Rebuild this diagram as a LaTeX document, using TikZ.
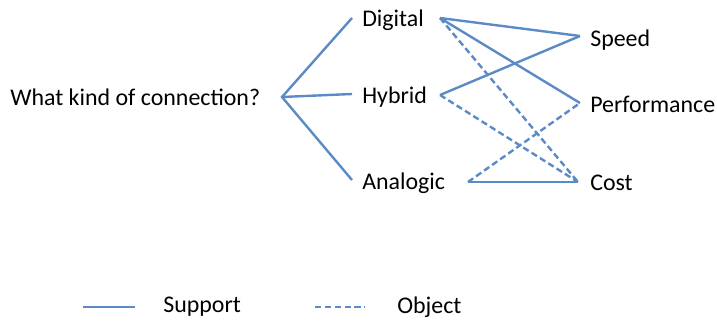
\documentclass[tikz,border=0pt]{standalone}
\usepackage{fontspec}
\setmainfont{Carlito}
\usepackage{tikz}
\definecolor{LineBlue}{HTML}{5B8AC6}
\tikzset{
  lbl/.style={anchor=west, inner sep=0pt, font=\fontsize{17}{20}\selectfont},
  supp/.style={draw=LineBlue, line width=1.7pt},
  obj/.style={draw=LineBlue, line width=1.7pt, dash pattern=on 4.5pt off 2.5pt}
}
\begin{document}
\begin{tikzpicture}[x=0.025cm, y=-0.025cm]
        \useasboundingbox (0,0) rectangle (717,323);
        %Question
        \node[lbl] (q) at (10,97) {What kind of connection?};
        \coordinate (root) at (282,97);
        %Options
        \node[lbl] (dig) at (362,20) {Digital};
        \node[lbl] (hyb) at (362,97) {Hybrid};
        \node[lbl] (ana) at (362,183) {Analogic};
        \coordinate (digL) at (352,18);
        \coordinate (hybL) at (352,94);
        \coordinate (anaL) at (352,180);
        \coordinate (digR) at (440,18);
        \coordinate (hybR) at (440,95);
        \coordinate (anaR) at (468,182);
        %Criteria
        \node[lbl] (spd) at (590,40) {Speed};
        \node[lbl] (perf) at (590,104) {Performance};
        \node[lbl] (cost) at (590,183) {Cost};
        \coordinate (spdL) at (580,36);
        \coordinate (perfL) at (580,103);
        \coordinate (costL) at (578,182);
        %Tree
        \draw[supp] (digL)--(root)--(anaL);
        \draw[supp] (root)--(hybL);
        %Links
        \draw[supp] (digR)--(spdL);
        \draw[supp] (digR)--(perfL);
        \draw[obj] (digR)--(costL);
        \draw[supp] (hybR)--(spdL);
        \draw[obj] (hybR)--(costL);
        \draw[obj] (anaR)--(perfL);
        \draw[supp] (anaR)--(costL);
        %Legend
        \coordinate (s1) at (83,307);
        \coordinate (s2) at (135,307);
        \coordinate (o1) at (315,307);
        \coordinate (o2) at (365,307);
        \draw[supp] (s1)--(s2);
        \draw[obj] (o1)--(o2);
        \node[lbl] (supl) at (163,307) {Support};
        \node[lbl] (objl) at (397,307) {Object};
\end{tikzpicture}
\end{document}
